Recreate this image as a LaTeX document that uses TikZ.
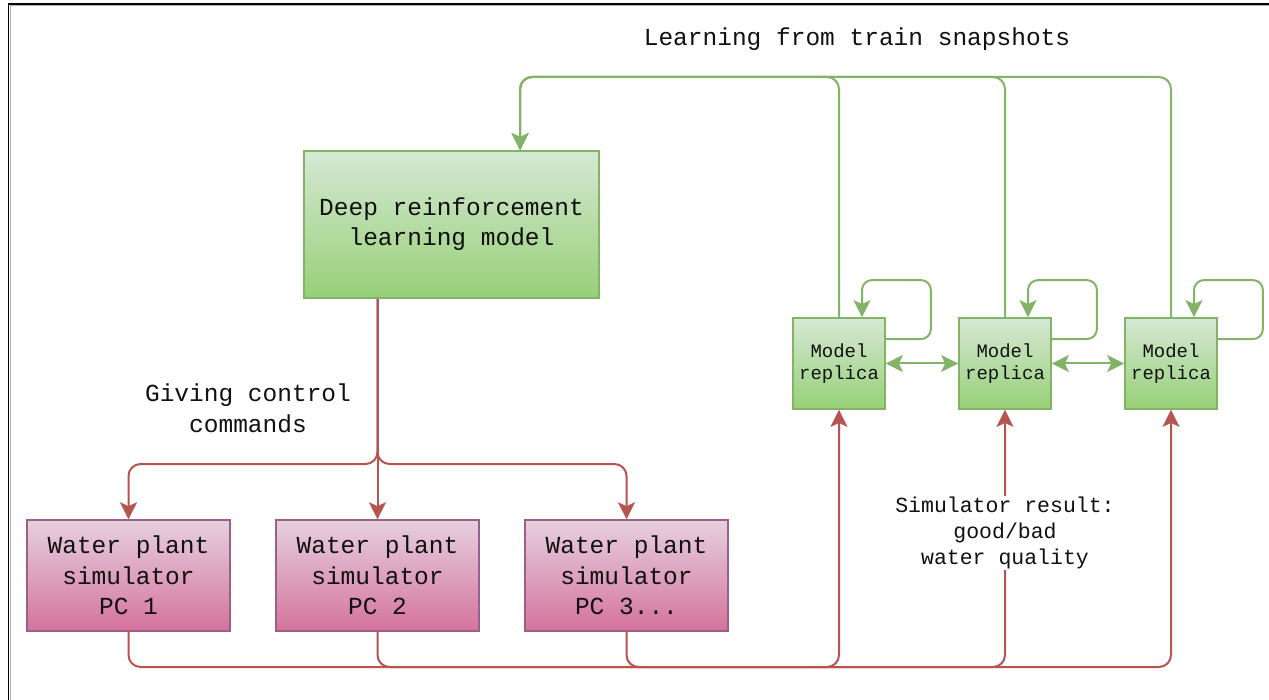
\documentclass[tikz,border=0pt]{standalone}
\usepackage{fontspec}
\usetikzlibrary{arrows.meta,calc}
\newfontfamily\monofnt{Liberation Mono}
\definecolor{gstroke}{HTML}{82B366}
\definecolor{gtop}{HTML}{D5E8D4}
\definecolor{gbot}{HTML}{97D077}
\definecolor{pstroke}{HTML}{996185}
\definecolor{ptop}{HTML}{E6D0DE}
\definecolor{pbot}{HTML}{D5739D}
\definecolor{rline}{HTML}{B85450}
\definecolor{txt}{HTML}{111111}
\tikzset{
  greenbox/.style={draw=gstroke, line width=1.8pt, top color=gtop, bottom color=gbot, inner sep=0pt, align=center, text=txt},
  pinkbox/.style={draw=pstroke, line width=1.5pt, top color=ptop, bottom color=pbot, inner sep=0pt, align=center, text=txt,
    minimum width=203pt, minimum height=111pt, font=\monofnt\fontsize{24.5}{30.5}\selectfont},
  replica/.style={greenbox, minimum width=92pt, minimum height=91pt, font=\monofnt\fontsize{19}{22}\selectfont},
  tipshape/.style={},
  garrow/.style={draw=gstroke, line width=2pt, rounded corners=12pt, -{Stealth[length=17pt,width=17pt,inset=4pt,line width=0.5pt]}},
  gdouble/.style={draw=gstroke, line width=2pt, {Stealth[length=17pt,width=17pt,inset=4pt,line width=0.5pt]}-{Stealth[length=17pt,width=17pt,inset=4pt,line width=0.5pt]}},
  rarrow/.style={draw=rline, line width=2pt, rounded corners=12pt, -{Stealth[length=17pt,width=17pt,inset=4pt,line width=0.5pt]}},
  lbl/.style={align=center, text=txt, inner sep=2pt}
}
\begin{document}
\begin{tikzpicture}[x=1pt,y=-1pt]
\useasboundingbox (0,0) rectangle (1269,700);
\fill[white] (0,0) rectangle (1269,700);
% frame
\draw[black, line width=1.6pt] (8.5,700) -- (8.5,3.8) -- (1269,3.8);
\draw[gray!60, line width=0.8pt] (10.3,700) -- (10.3,5.6) -- (1269,5.6);

% nodes
\node[greenbox, minimum width=295pt, minimum height=147pt, font=\monofnt\fontsize{24.5}{30}\selectfont] (drl) at (451.5,224.5) {Deep reinforcement\\learning model};
\node[pinkbox] (wp1) at (128.5,575.5) {Water plant\\simulator\\PC 1};
\node[pinkbox] (wp2) at (377.5,575.5) {Water plant\\simulator\\PC 2};
\node[pinkbox] (wp3) at (626.5,575.5) {Water plant\\simulator\\PC 3...};
\node[replica] (mr1) at (839,363.5) {Model\\replica};
\node[replica] (mr2) at (1005,363.5) {Model\\replica};
\node[replica] (mr3) at (1171,363.5) {Model\\replica};

\coordinate (split) at (377.5,464);
\coordinate (top) at (0,77);
\coordinate (bot) at (0,667);
\coordinate (drlin) at ([xshift=217pt]drl.north west);

% commands
\draw[rarrow] (drl.south -| wp2.north) |- (split -| wp1.north) -- (wp1.north);
\draw[rarrow] (drl.south -| wp2.north) -- (wp2.north);
\draw[rarrow] (drl.south -| wp2.north) |- (split -| wp3.north) -- (wp3.north);

% results
\draw[rarrow] (wp1.south) |- (bot -| mr1.south) -- (mr1.south);
\draw[rarrow] (wp2.south) |- (bot -| mr2.south) -- (mr2.south);
\draw[rarrow] (wp3.south) |- (bot -| mr3.south) -- (mr3.south);

% learning from snapshots
\draw[garrow] (mr3.north) |- (top -| drlin) -- (drlin);
\draw[garrow] (mr2.north) |- (top -| drlin) -- (drlin);
\draw[garrow] (mr1.north) |- (top -| drlin) -- (drlin);

% self loops
\foreach \m in {mr1,mr2,mr3}{
  \draw[garrow, rounded corners=10pt] ([yshift=-22pt]\m.north east) -- ++(45,0) |- ([xshift=23pt,yshift=37pt]\m.north) -- ([xshift=23pt]\m.north);
}
% between replicas
\draw[gdouble] (mr1.east) -- (mr2.west);
\draw[gdouble] (mr2.east) -- (mr3.west);

% labels
\node[lbl, font=\monofnt\fontsize{24.5}{30}\selectfont] (l1) at (857,39) {Learning from train snapshots};
\node[lbl, font=\monofnt\fontsize{24.5}{31}\selectfont] (l2) at (248,408) {Giving control\\commands};
\node[lbl, fill=white, inner sep=1pt, font=\monofnt\fontsize{21.5}{26}\selectfont] (l3) at (1005,533) {Simulator result:\\good/bad\\water quality};
\end{tikzpicture}
\end{document}
